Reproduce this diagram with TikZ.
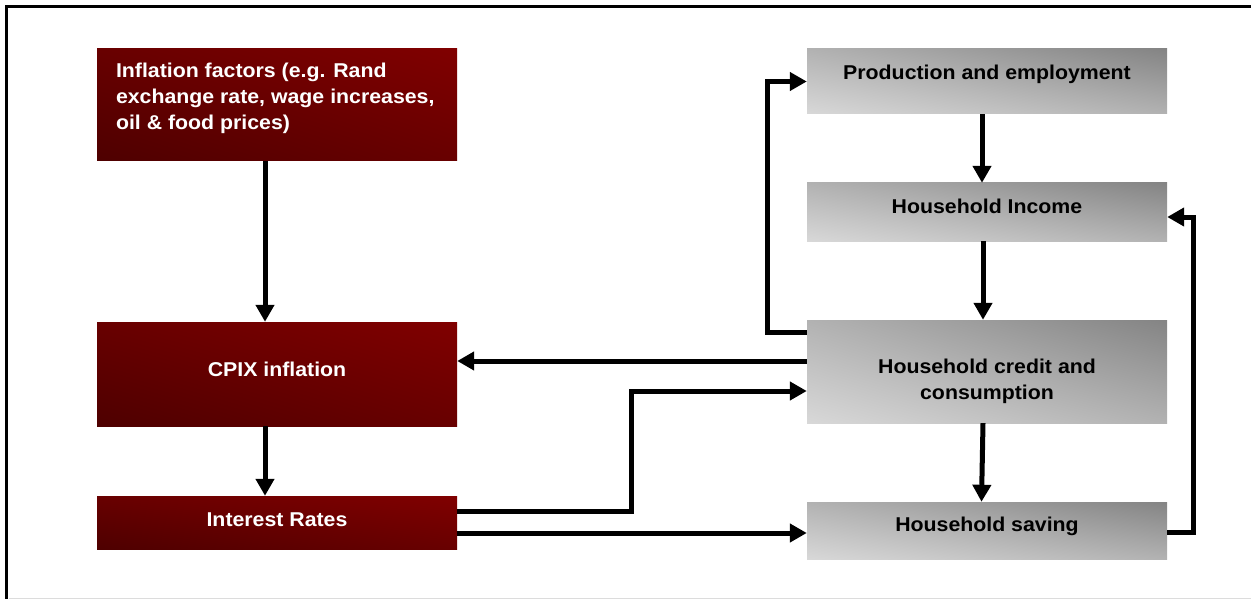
\documentclass[tikz,border=0pt]{standalone}
\usepackage{fontspec}
\setmainfont{Liberation Sans}[FakeStretch=1.065]
\usetikzlibrary{arrows.meta,shadings}
\definecolor{redD}{RGB}{78,0,0}
\definecolor{redM}{RGB}{104,0,0}
\definecolor{redL}{RGB}{128,0,0}
\definecolor{grL}{RGB}{216,216,216}
\definecolor{grM}{RGB}{178,178,178}
\definecolor{grD}{RGB}{132,132,132}
\definecolor{frameline}{RGB}{220,220,220}
\begin{document}
\begin{tikzpicture}[x=1pt,y=-1pt,
  box/.style={rectangle, inner xsep=0pt, inner ysep=0pt, minimum width=360pt,
    font=\fontsize{20}{26}\selectfont\bfseries},
  redbox/.style={box, text=white, lower left=redD, upper right=redL, upper left=redM, lower right=redM},
  graybox/.style={box, text=black, lower left=grL, upper right=grD, upper left=grM, lower right=grM},
  arr/.style={line width=5pt, -{Triangle[length=17pt,width=18pt]}},
]
\useasboundingbox (0,0) rectangle (1251,599);
% frame
\draw[line width=3.5pt] (6.7,599) -- (6.7,6.7) -- (1251,6.7);
\draw[frameline, line width=1pt] (9,598) -- (1251,598);

% left column
\node[redbox, minimum height=112pt, text height=0pt, text depth=54.6pt] (infl) at (277,105)
  {\makebox[322pt][l]{\begin{tabular}[t]{@{}l@{}}Inflation factors (e.g. Rand\\exchange rate, wage increases,\\oil \& food prices)\end{tabular}}};
\node[redbox, minimum height=104pt, text height=20pt, text depth=16pt] (cpix) at (277,374) {CPIX inflation};
\node[redbox, minimum height=53pt, text height=15pt, text depth=7.4pt] (rates) at (277,522.5) {Interest Rates};

% right column
\node[graybox, minimum height=65pt, text height=10pt, text depth=14.4pt] (prod) at (987,81.5) {Production and employment};
\node[graybox, minimum height=58pt, text height=15pt, text depth=12.4pt] (income) at (987,212) {Household Income};
\node[graybox, minimum height=103pt, text height=15pt, text depth=12pt] (credit) at (987,371.5)
  {\begin{tabular}[t]{@{}c@{}}Household credit and\\consumption\end{tabular}};
\node[graybox, minimum height=57pt, text height=15pt, text depth=13pt] (saving) at (987,530.5) {Household saving};

% connectors
\draw[arr] ([xshift=-12pt]infl.south) -- ([xshift=-12pt]cpix.north);
\draw[arr] ([xshift=-12pt]cpix.south) -- ([xshift=-12pt]rates.north);
\draw[arr] ([yshift=10.5pt]credit.west) -- ([yshift=13pt]cpix.east);
\draw[arr] ([yshift=11.5pt]rates.east) -| ([xshift=-175pt,yshift=-19.5pt]credit.west) -- ([yshift=-19.5pt]credit.west);
\draw[arr] ([yshift=-10.5pt]rates.east) -- ([yshift=-2.5pt]saving.west);
\draw[arr] ([xshift=-5pt]prod.south) -- ([xshift=-5pt]income.north);
\draw[arr] ([xshift=-4pt]income.south) -- ([xshift=-4pt]credit.north);
\draw[arr] ([xshift=-4pt]credit.south) -- ([xshift=-5.5pt]saving.north);
\draw[arr] ([yshift=39.5pt]credit.west) -| ([xshift=-39pt]prod.west) -- (prod.west);
\draw[arr] ([yshift=-1.5pt]saving.east) -| ([xshift=26pt,yshift=-5pt]income.east) -- ([yshift=-5pt]income.east);
\end{tikzpicture}
\end{document}
